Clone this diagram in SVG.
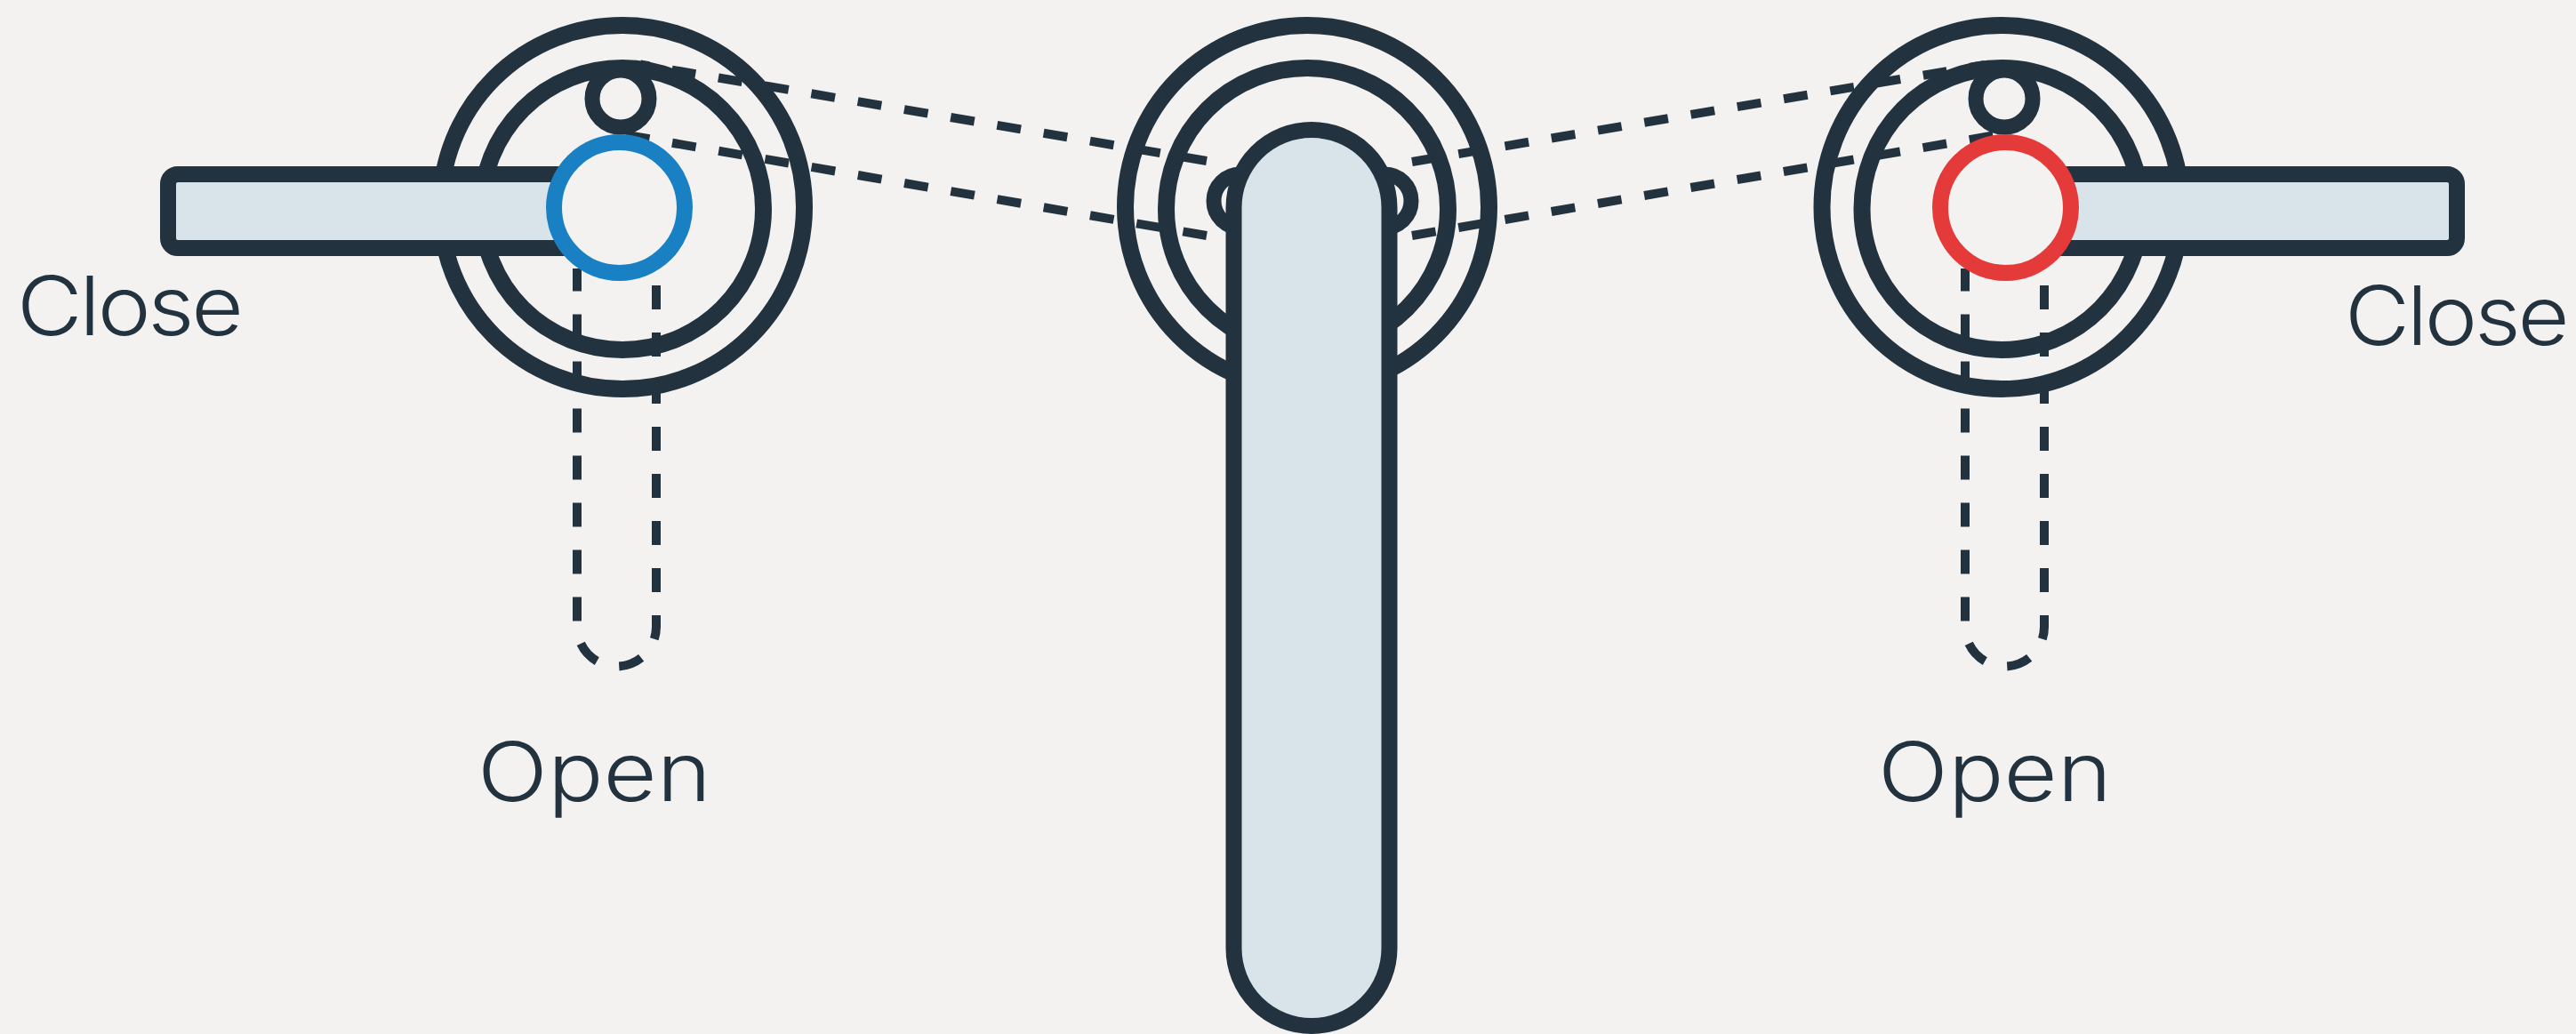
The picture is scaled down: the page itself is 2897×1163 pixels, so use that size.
<svg xmlns="http://www.w3.org/2000/svg" width="2897" height="1163" viewBox="0 0 2897 1163">
<style>
.ring{fill:none;stroke:#22333f;stroke-width:19}
.knob{fill:#f3f2f0;stroke:#22333f;stroke-width:17}
.handle{fill:#d8e4e9;stroke:#22333f;stroke-width:18}
.dash{fill:none;stroke:#22333f;stroke-width:10;stroke-dasharray:27 26}
.label{font-family:"Inter","Open Sans","Liberation Sans",sans-serif;font-weight:300;font-size:92px;fill:#22333f}
.close{letter-spacing:-3px}
</style>
<rect width="2897" height="1163" fill="#f3f2f0"/>
<g id="left-valve">
<circle class="ring" cx="700" cy="233" r="204.500"/>
<circle class="ring" cx="700" cy="235" r="158.500"/>
<circle class="knob" cx="698" cy="111" r="32"/>
</g>
<g id="center-valve">
<circle class="ring" cx="1470" cy="233" r="204.500"/>
<circle class="ring" cx="1470" cy="235" r="158.500"/>
<circle class="knob" cx="1395" cy="226" r="30"/>
<circle class="knob" cx="1557" cy="226" r="30"/>
</g>
<g id="right-valve">
<ellipse class="ring" cx="2251" cy="233" rx="202" ry="204.500"/>
<ellipse class="ring" cx="2251" cy="235" rx="157" ry="158.500"/>
<circle class="knob" cx="2254" cy="111" r="32"/>
</g>
<g id="connectors">
<path class="dash" d="M1357 181L720 72.500"/>
<path class="dash" d="M1357 265L700 151"/>
<path class="dash" d="M1588 182L2232 73"/>
<path class="dash" d="M1588 265L2250 151"/>
<path class="dash" d="M738 321V705A44.500 44.500 0 0 1 649 705V302"/>
<path class="dash" d="M2299 321V705A44.500 44.500 0 0 1 2210 705V302"/>
</g>
<g id="left-handle">
<rect class="handle" x="189" y="196" width="500" height="83" rx="11"/>
<circle cx="696.500" cy="233.500" r="73.500" fill="#f3f2f0" stroke="#1a80c4" stroke-width="18"/>
</g>
<g id="right-handle">
<rect class="handle" x="2260" y="196" width="503" height="83" rx="11"/>
<circle cx="2255.500" cy="233.500" r="73.500" fill="#f3f2f0" stroke="#e53a3a" stroke-width="18"/>
</g>
<g id="center-handle">
<rect class="handle" x="1387.500" y="146" width="175" height="1008" rx="87.500"/>
</g>
<g id="labels">
<text class="label close" transform="translate(19 377) scale(1.1 1)">Close</text>
<text class="label close" transform="translate(2637 388) scale(1.09 1)">Close</text>
<text class="label" transform="translate(537 901) scale(1.13 1)">Open</text>
<text class="label" transform="translate(2112 901) scale(1.13 1)">Open</text>
</g>
</svg>
